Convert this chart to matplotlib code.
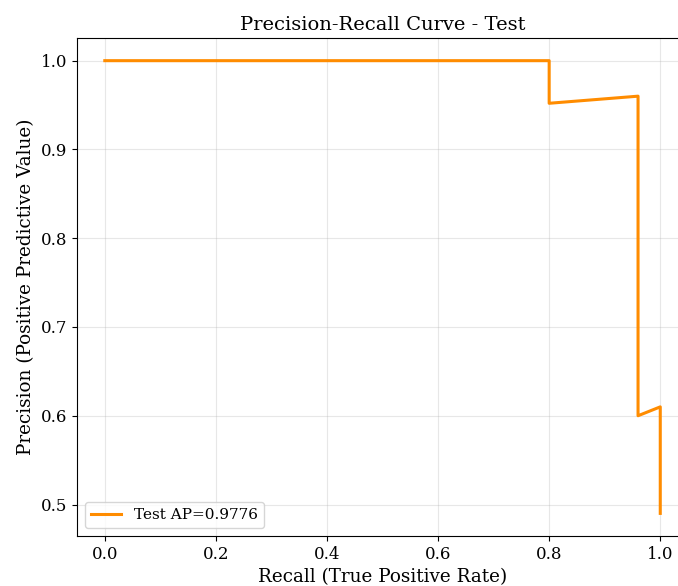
import matplotlib
matplotlib.use("Agg")
import matplotlib.pyplot as plt

recall = [0.0, 0.8, 0.8, 0.96, 0.96, 1.0, 1.0]
precision = [1.0, 1.0, 0.952, 0.96, 0.6, 0.61, 0.49]
label = "Test AP=0.9776"

plt.rcParams['font.family'] = ['DejaVu Serif']
fig = plt.figure(figsize=(6.78, 5.86), dpi=100)
ax = fig.add_axes([0.1136, 0.0853, 0.9012, 0.8498])
ax.plot(recall, precision, color='darkorange', lw=2.2, label=label)
ax.set_xlim(-0.05, 1.05)
ax.set_ylim(0.4645, 1.0255)
ax.set_xlabel("Recall (True Positive Rate)", fontsize=13.2)
ax.set_ylabel("Precision (Positive Predictive Value)", fontsize=13.2)
ax.set_title("Precision-Recall Curve - Test", fontsize=14)
ax.tick_params(labelsize=12)
ax.grid(True, alpha=0.3)
ax.legend(loc='lower left', fontsize=11)
fig.savefig("out.png", dpi=100)
